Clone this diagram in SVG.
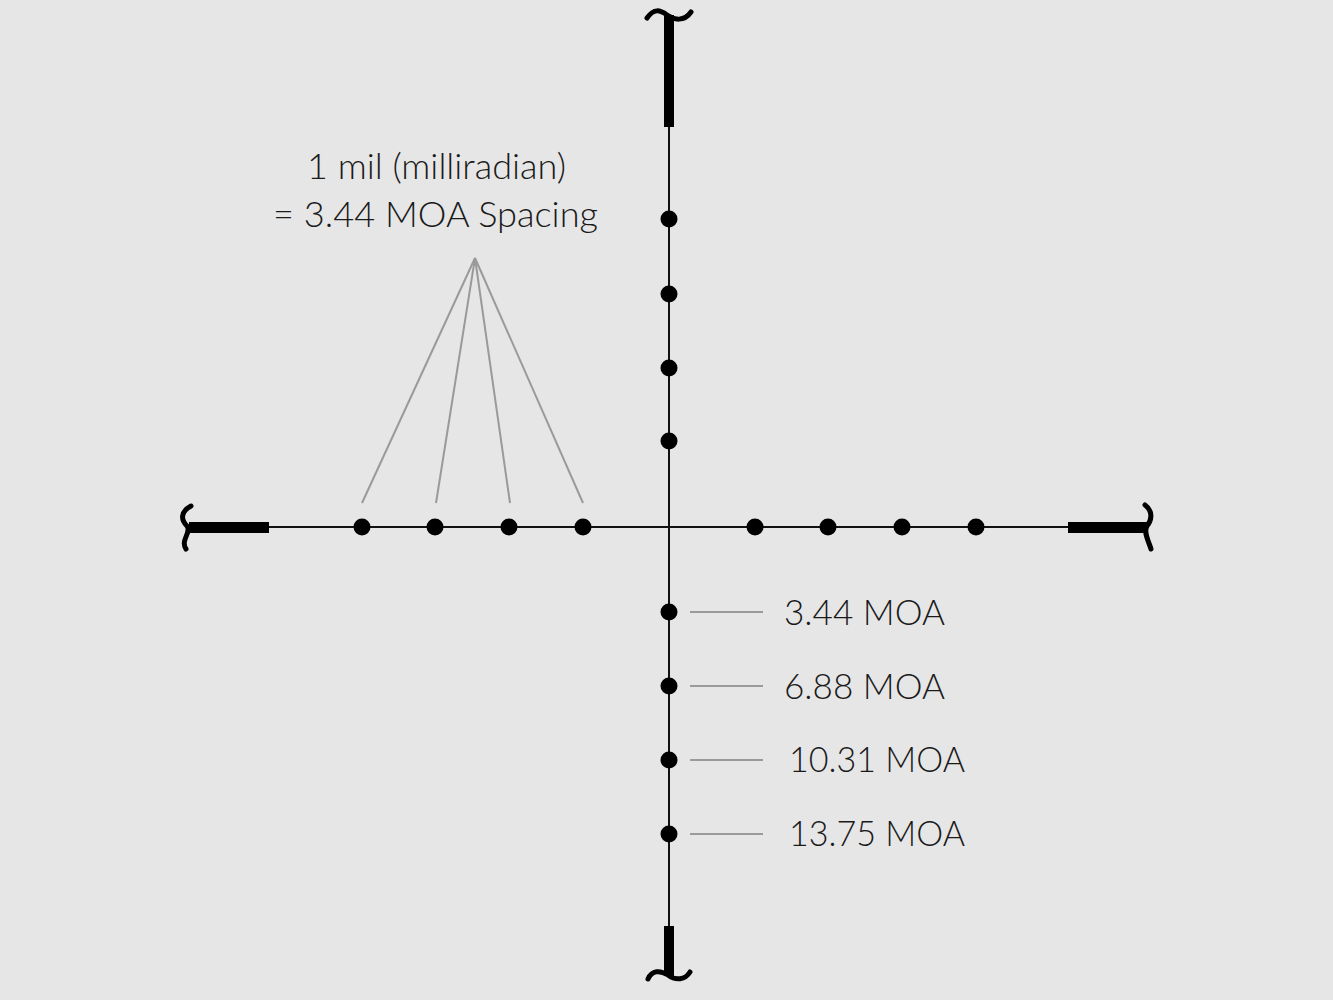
<svg xmlns="http://www.w3.org/2000/svg" width="1333" height="1000" viewBox="0 0 1333 1000">
  <style>
    .thin { stroke: #111; stroke-width: 2; fill: none; }
    .post { fill: #000; }
    .tilde { stroke: #000; stroke-width: 5; fill: none; stroke-linecap: round; }
    .dot { fill: #000; }
    .lead { stroke: #9a9a9a; stroke-width: 2; fill: none; }
    .lbl { font-family: Lato, "Liberation Sans", sans-serif; font-weight: 300; font-size: 36px; fill: #1a1a1a; }
  </style>
  <rect x="0" y="0" width="1333" height="1000" fill="#e6e6e6"/>

  <g id="reticle">
    <line class="thin" x1="669" y1="120" x2="669" y2="930"/>
    <line class="thin" x1="262" y1="527" x2="1075" y2="527"/>
    <rect class="post" x="664" y="15" width="10" height="112"/>
    <rect class="post" x="664" y="926" width="10" height="50"/>
    <rect class="post" x="189" y="522" width="80" height="11"/>
    <rect class="post" x="1068" y="522" width="79" height="11"/>
    <path class="tilde" d="M647,18 C654,8 660,10 667,15 C674,20 684,22 691,12"/>
    <path class="tilde" d="M648,979 C652,970 660,970 668,975 C676,981 685,980 690,972"/>
    <path class="tilde" d="M191,506 C180,512 181,520 187,526 C192,532 180,540 186,549"/>
    <path class="tilde" d="M1145,505 C1153,511 1152,520 1147,526 C1143,532 1149,542 1151,549"/>
  </g>

  <g id="dots">
    <circle class="dot" cx="362" cy="527" r="8.5"/>
    <circle class="dot" cx="435" cy="527" r="8.5"/>
    <circle class="dot" cx="509" cy="527" r="8.5"/>
    <circle class="dot" cx="583" cy="527" r="8.5"/>
    <circle class="dot" cx="755" cy="527" r="8.5"/>
    <circle class="dot" cx="828" cy="527" r="8.5"/>
    <circle class="dot" cx="902" cy="527" r="8.5"/>
    <circle class="dot" cx="976" cy="527" r="8.5"/>
    <circle class="dot" cx="669" cy="219" r="8.5"/>
    <circle class="dot" cx="669" cy="294" r="8.5"/>
    <circle class="dot" cx="669" cy="368" r="8.5"/>
    <circle class="dot" cx="669" cy="441" r="8.5"/>
    <circle class="dot" cx="669" cy="612" r="8.5"/>
    <circle class="dot" cx="669" cy="686" r="8.5"/>
    <circle class="dot" cx="669" cy="760" r="8.5"/>
    <circle class="dot" cx="669" cy="834" r="8.5"/>
  </g>

  <g id="connectors">
    <line class="lead" x1="475" y1="258" x2="362" y2="503"/>
    <line class="lead" x1="475" y1="258" x2="436" y2="503"/>
    <line class="lead" x1="475" y1="258" x2="510" y2="503"/>
    <line class="lead" x1="475" y1="258" x2="583" y2="503"/>
    <line class="lead" x1="690" y1="612" x2="763" y2="612"/>
    <line class="lead" x1="690" y1="686" x2="763" y2="686"/>
    <line class="lead" x1="690" y1="760" x2="763" y2="760"/>
    <line class="lead" x1="690" y1="834" x2="763" y2="834"/>
  </g>

  <g id="label-spacing">
    <text class="lbl" x="307" y="179" textLength="259" lengthAdjust="spacingAndGlyphs">1 mil (milliradian)</text>
    <text class="lbl" x="273" y="227" textLength="325" lengthAdjust="spacingAndGlyphs">= 3.44 MOA Spacing</text>
  </g>
  <g id="label-1"><text class="lbl" x="784" y="625" textLength="161" lengthAdjust="spacingAndGlyphs">3.44 MOA</text></g>
  <g id="label-2"><text class="lbl" x="784" y="699" textLength="161" lengthAdjust="spacingAndGlyphs">6.88 MOA</text></g>
  <g id="label-3"><text class="lbl" x="789" y="772" textLength="176" lengthAdjust="spacingAndGlyphs">10.31 MOA</text></g>
  <g id="label-4"><text class="lbl" x="789" y="846" textLength="176" lengthAdjust="spacingAndGlyphs">13.75 MOA</text></g>
</svg>
